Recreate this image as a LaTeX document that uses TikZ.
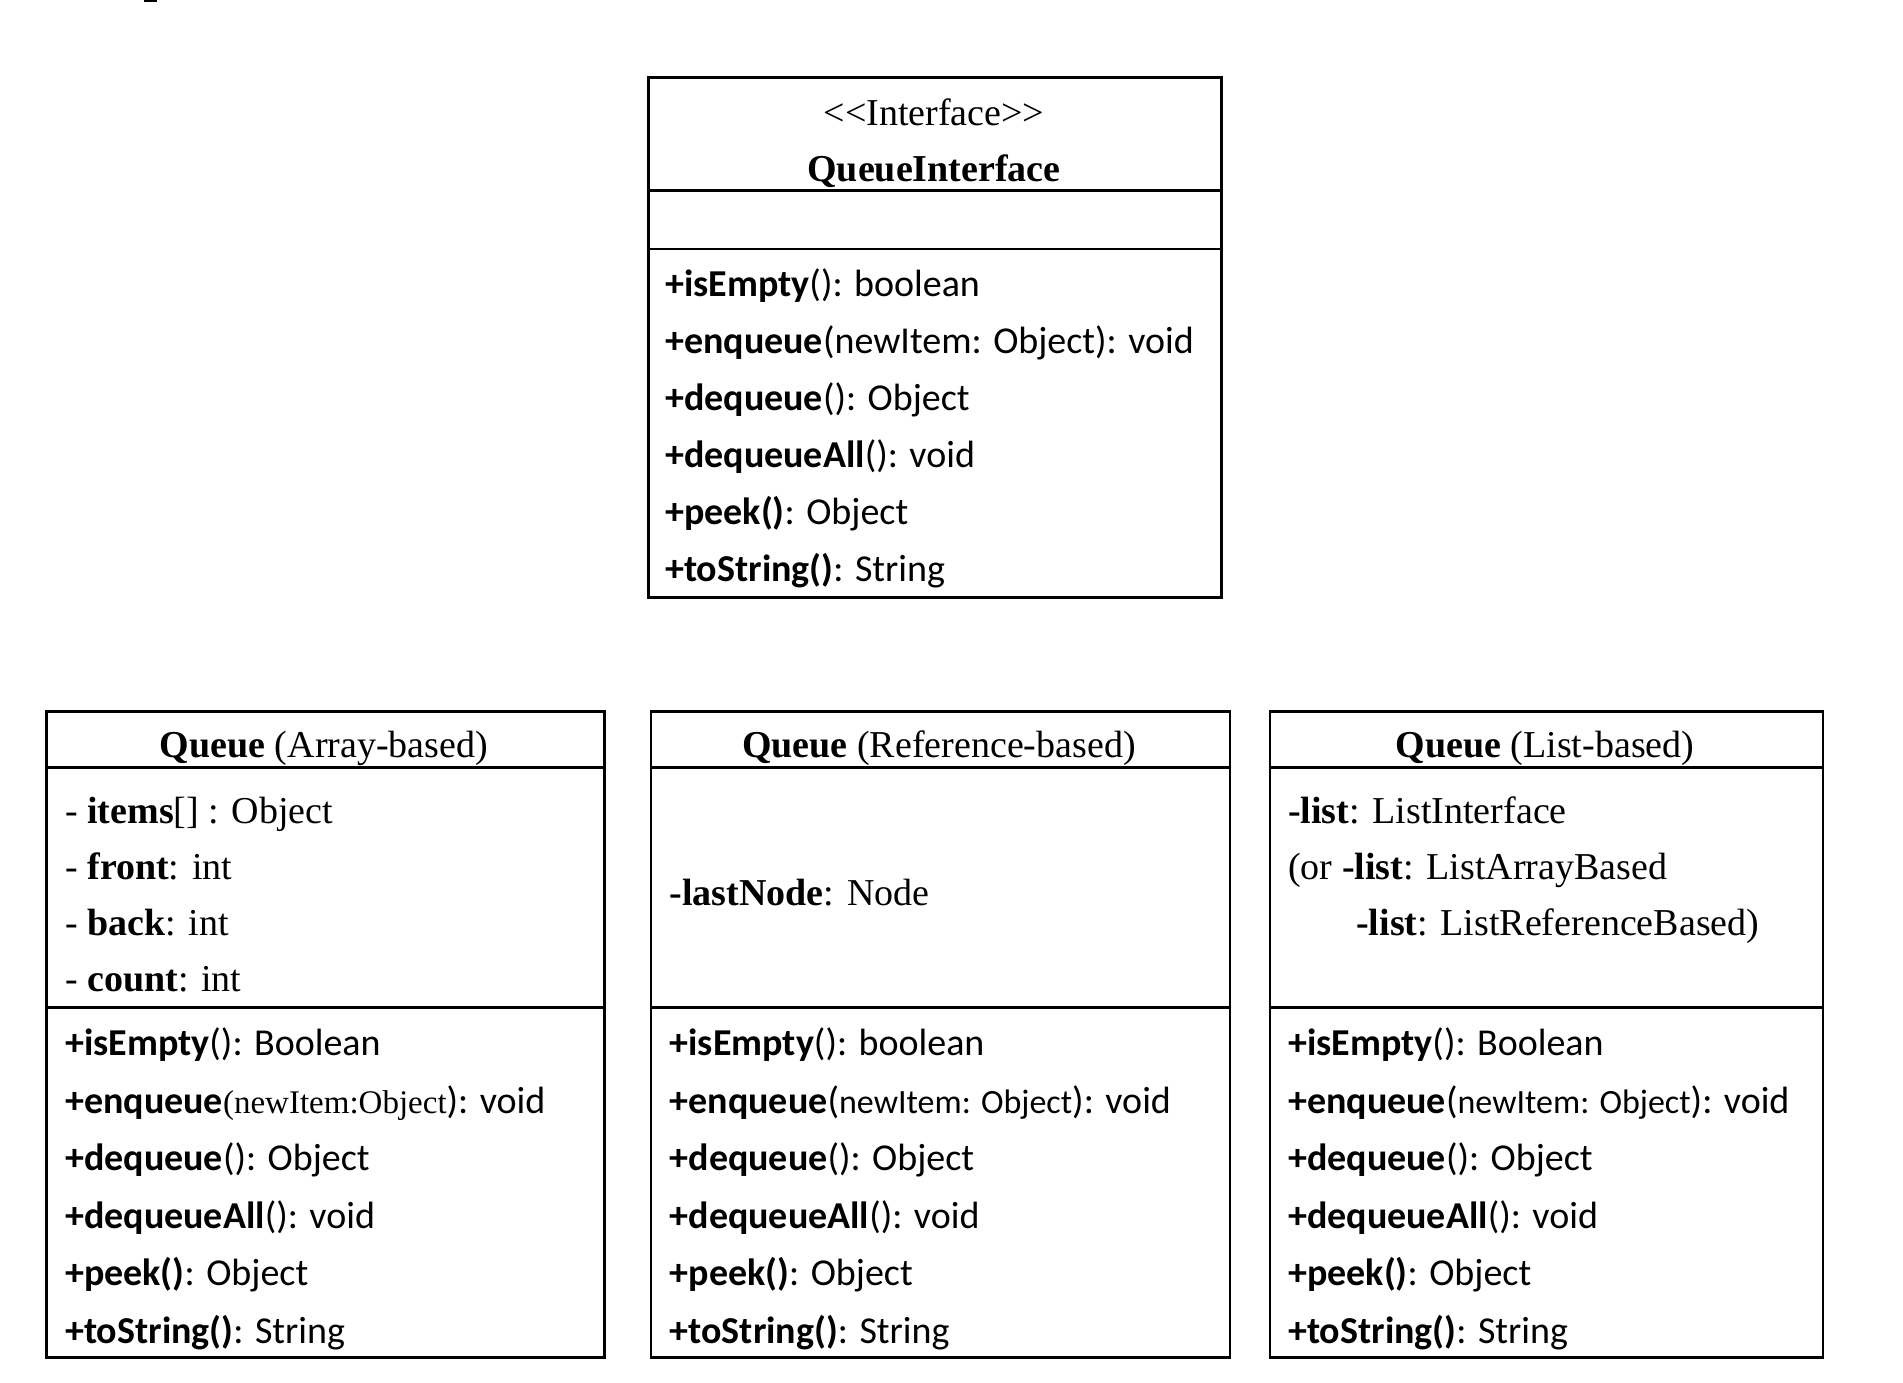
\documentclass[tikz,border=0pt]{standalone}
\usepackage{fontspec}
\setmainfont{Liberation Serif}
\newfontfamily\calib{Carlito}
\tikzset{
  umlbox/.style={draw=black, line width=2.6pt, anchor=north west, inner sep=0pt},
  sepline/.style={line width=2.6pt},
  ttl/.style={anchor=base, inner sep=0pt, font=\fontsize{38}{46}\selectfont},
  attr/.style={anchor=base west, inner sep=0pt, font=\fontsize{38}{46}\selectfont},
  meth/.style={anchor=base west, inner sep=0pt, font=\calib\fontsize{38}{46}\selectfont},
}
\newcommand\smallarg[1]{{\fontsize{34}{40}\selectfont #1}}
\begin{document}
\begin{tikzpicture}[x=1pt, y=-1pt]
\useasboundingbox (0,0) rectangle (1903,1382);
\fill[black] (144,0) rectangle (157,2);

% ---------- Interface ----------
\node[umlbox, minimum width=573pt, minimum height=520pt] (iface) at (647,76) {};
\draw[sepline] (647,190.5) -- (1220,190.5);
\draw[sepline] (647,249) -- (1220,249);
\node[ttl] (istereo) at (934,125) {<\kern0pt<Interface>\kern0pt>};
\node[ttl] (iname) at (934,181) {\textbf{QueueInterface}};
\node[meth] (im1) at (665,296.5) {\textbf{+isEmpty}(): boolean};
\node[meth] (im2) at (665,353.5) {\textbf{+enqueue}(newItem: Object): void};
\node[meth] (im3) at (665,410.5) {\textbf{+dequeue}(): Object};
\node[meth] (im4) at (665,467.5) {\textbf{+dequeueAll}(): void};
\node[meth] (im5) at (665,524.5) {\textbf{+peek()}: Object};
\node[meth] (im6) at (665,581.5) {\textbf{+toString()}: String};

% ---------- Array-based ----------
\node[umlbox, minimum width=558pt, minimum height=646pt] (qa) at (45,710) {};
\draw[sepline] (45,767.5) -- (603,767.5);
\draw[sepline] (45,1007.5) -- (603,1007.5);
\node[ttl] (qat) at (324,757) {\textbf{Queue} (Array-based)};
\node[attr] (qa1) at (65,823) {- \textbf{items}[] : Object};
\node[attr] (qa2) at (65,879) {- \textbf{front}: int};
\node[attr] (qa3) at (65,935) {- \textbf{back}: int};
\node[attr] (qa4) at (65,991) {- \textbf{count}: int};
\node[meth] (qam1) at (65,1055.5) {\textbf{+isEmpty}(): Boolean};
\node[meth] (qam2) at (65,1113) {\textbf{+enqueue}{\rmfamily\fontsize{33}{40}\selectfont (newItem:Object}): void};
\node[meth] (qam3) at (65,1170.5) {\textbf{+dequeue}(): Object};
\node[meth] (qam4) at (65,1228) {\textbf{+dequeueAll}(): void};
\node[meth] (qam5) at (65,1285.5) {\textbf{+peek()}: Object};
\node[meth] (qam6) at (65,1343) {\textbf{+toString()}: String};

% ---------- Reference-based ----------
\node[umlbox, minimum width=579pt, minimum height=646pt] (qr) at (649.5,710) {};
\draw[sepline] (649.5,767.5) -- (1228.5,767.5);
\draw[sepline] (649.5,1007.5) -- (1228.5,1007.5);
\node[ttl] (qrt) at (939,757) {\textbf{Queue} (Reference-based)};
\node[attr] (qr1) at (669.5,905) {\textbf{-lastNode}: Node};
\node[meth] (qrm1) at (669.5,1055.5) {\textbf{+isEmpty}(): boolean};
\node[meth] (qrm2) at (669.5,1113) {\textbf{+enqueue}(\smallarg{newItem: Object}): void};
\node[meth] (qrm3) at (669.5,1170.5) {\textbf{+dequeue}(): Object};
\node[meth] (qrm4) at (669.5,1228) {\textbf{+dequeueAll}(): void};
\node[meth] (qrm5) at (669.5,1285.5) {\textbf{+peek()}: Object};
\node[meth] (qrm6) at (669.5,1343) {\textbf{+toString()}: String};

% ---------- List-based ----------
\node[umlbox, minimum width=553pt, minimum height=646pt] (ql) at (1268.5,710) {};
\draw[sepline] (1268.5,767.5) -- (1821.5,767.5);
\draw[sepline] (1268.5,1007.5) -- (1821.5,1007.5);
\node[ttl] (qlt) at (1545,757) {\textbf{Queue} (List-based)};
\node[attr] (ql1) at (1288,823) {\textbf{-list}: ListInterface};
\node[attr] (ql2) at (1288,879) {(or \textbf{-list}: ListArrayBased};
\node[attr] (ql3) at (1356,935) {\textbf{-list}: ListReferenceBased)};
\node[meth] (qlm1) at (1288,1055.5) {\textbf{+isEmpty}(): Boolean};
\node[meth] (qlm2) at (1288,1113) {\textbf{+enqueue}(\smallarg{newItem: Object}): void};
\node[meth] (qlm3) at (1288,1170.5) {\textbf{+dequeue}(): Object};
\node[meth] (qlm4) at (1288,1228) {\textbf{+dequeueAll}(): void};
\node[meth] (qlm5) at (1288,1285.5) {\textbf{+peek()}: Object};
\node[meth] (qlm6) at (1288,1343) {\textbf{+toString()}: String};
\end{tikzpicture}
\end{document}
